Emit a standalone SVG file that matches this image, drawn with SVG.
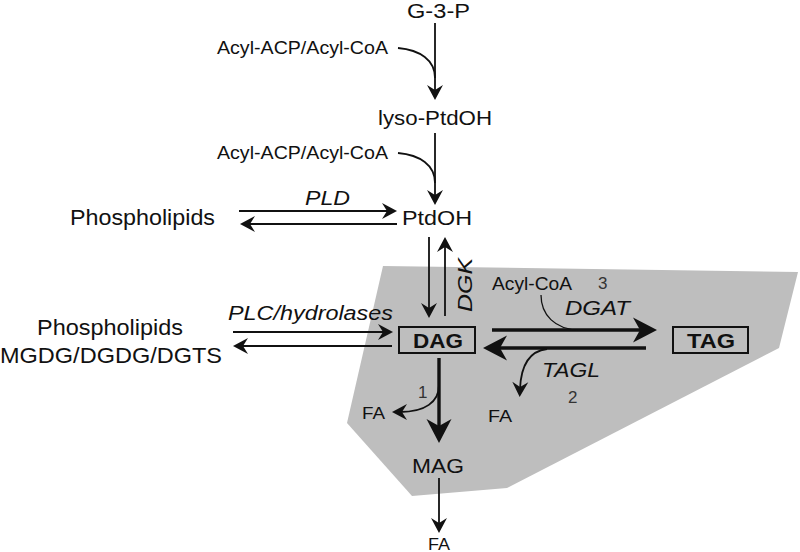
<svg xmlns="http://www.w3.org/2000/svg" width="800" height="552" viewBox="0 0 800 552">
<defs>
<style>
text{font-family:"Liberation Sans",Arial,sans-serif;fill:#111}
.it{font-style:italic}
.b{font-weight:bold}
.num{fill:#333}
.ln{fill:none;stroke:#111;stroke-width:1.8}
.thk{fill:none;stroke:#111;stroke-width:3.4}
.box{fill:none;stroke:#111;stroke-width:2}
</style>
<marker id="ah" markerUnits="userSpaceOnUse" viewBox="-16 -9 17 18" markerWidth="17" markerHeight="18" refX="-8" refY="0" orient="auto" overflow="visible">
<path d="M0,0 L-15,-8 L-10,0 L-15,8 Z" fill="#111"/>
</marker>
<marker id="ahL" markerUnits="userSpaceOnUse" viewBox="-26 -13 27 26" markerWidth="27" markerHeight="26" refX="-12" refY="0" orient="auto" overflow="visible">
<path d="M0,0 L-24,-12.5 L-17,0 L-24,12.5 Z" fill="#111"/>
</marker>
</defs>
<polygon id="er-region" points="383,266 798,272 779,348 507,488 412,496 347,423" fill="#bebebe"/>
<g id="connectors">
<path class="ln" d="M435,23 V92" marker-end="url(#ah)"/>
<path class="ln" d="M398,48 C420,50 435,60 435,78"/>
<path class="ln" d="M435,133 V197" marker-end="url(#ah)"/>
<path class="ln" d="M398,153 C420,155 435,165 435,183"/>
<path class="ln" d="M239,211 H389" marker-end="url(#ah)"/>
<path class="ln" d="M397,224 H248" marker-end="url(#ah)"/>
<path class="ln" d="M429,237 V310" marker-end="url(#ah)"/>
<path class="ln" d="M445,316 V245" marker-end="url(#ah)"/>
<path class="ln" d="M233,332 H385" marker-end="url(#ah)"/>
<path class="ln" d="M392,346 H241" marker-end="url(#ah)"/>
<path class="thk" d="M492,330 H645" marker-end="url(#ahL)"/>
<path class="thk" d="M646,348 H495" marker-end="url(#ahL)"/>
<path class="ln" style="stroke-width:1.3" d="M541,295 C541,315 555,329 578,330"/>
<path class="ln" d="M547,349 C530,351 521,365 520,389" marker-end="url(#ah)"/>
<path class="thk" d="M439,358 V431" marker-end="url(#ahL)"/>
<path class="ln" d="M439,385 C439,402 425,412 400,412" marker-end="url(#ah)"/>
<path class="ln" d="M439,478 V525" marker-end="url(#ah)"/>
</g>
<g id="g3p"><text x="407" y="18" font-size="20" textLength="63" lengthAdjust="spacingAndGlyphs">G-3-P</text></g>
<g id="acyl1"><text x="217" y="54" font-size="17.5" textLength="171" lengthAdjust="spacingAndGlyphs">Acyl-ACP/Acyl-CoA</text></g>
<g id="lyso"><text x="378" y="125" font-size="21" textLength="114" lengthAdjust="spacingAndGlyphs">lyso-PtdOH</text></g>
<g id="acyl2"><text x="217" y="159" font-size="17.5" textLength="171" lengthAdjust="spacingAndGlyphs">Acyl-ACP/Acyl-CoA</text></g>
<g id="phos1"><text x="70" y="225" font-size="22" textLength="145" lengthAdjust="spacingAndGlyphs">Phospholipids</text></g>
<g id="pld"><text class="it" x="305" y="205" font-size="20" textLength="45" lengthAdjust="spacingAndGlyphs">PLD</text></g>
<g id="ptdoh"><text x="402" y="225" font-size="21" textLength="70" lengthAdjust="spacingAndGlyphs">PtdOH</text></g>
<g id="dgk"><text class="it" transform="translate(472,312) rotate(-90)" x="0" y="0" font-size="20" textLength="54" lengthAdjust="spacingAndGlyphs">DGK</text></g>
<g id="plc"><text class="it" x="228" y="320" font-size="20.5" textLength="165" lengthAdjust="spacingAndGlyphs">PLC/hydrolases</text></g>
<g id="phos2">
<text x="37" y="335" font-size="22" textLength="146" lengthAdjust="spacingAndGlyphs">Phospholipids</text>
<text x="0" y="363" font-size="22" textLength="222" lengthAdjust="spacingAndGlyphs">MGDG/DGDG/DGTS</text>
</g>
<g id="dag">
<rect class="box" x="399" y="327" width="76" height="26"/>
<text class="b" x="413" y="348" font-size="21" textLength="50" lengthAdjust="spacingAndGlyphs">DAG</text>
</g>
<g id="tag">
<rect class="box" x="673" y="327" width="75" height="26"/>
<text class="b" x="687" y="348" font-size="21" textLength="48" lengthAdjust="spacingAndGlyphs">TAG</text>
</g>
<g id="acylcoa"><text x="492" y="290" font-size="17.5" textLength="80" lengthAdjust="spacingAndGlyphs">Acyl-CoA</text></g>
<g id="n3"><text class="num" x="598" y="289" font-size="17">3</text></g>
<g id="dgat"><text class="it" x="565" y="315" font-size="20.5" textLength="65" lengthAdjust="spacingAndGlyphs">DGAT</text></g>
<g id="tagl"><text class="it" x="542" y="377" font-size="20.5" textLength="58" lengthAdjust="spacingAndGlyphs">TAGL</text></g>
<g id="n2"><text class="num" x="568" y="403" font-size="17">2</text></g>
<g id="fa2"><text x="488" y="422" font-size="17" textLength="24" lengthAdjust="spacingAndGlyphs">FA</text></g>
<g id="n1"><text class="num" x="418" y="398" font-size="17">1</text></g>
<g id="fa1"><text x="362" y="419" font-size="17" textLength="23" lengthAdjust="spacingAndGlyphs">FA</text></g>
<g id="mag"><text x="412" y="473" font-size="21" textLength="52" lengthAdjust="spacingAndGlyphs">MAG</text></g>
<g id="fa3"><text x="428" y="550" font-size="16.5" textLength="22" lengthAdjust="spacingAndGlyphs">FA</text></g>
</svg>
